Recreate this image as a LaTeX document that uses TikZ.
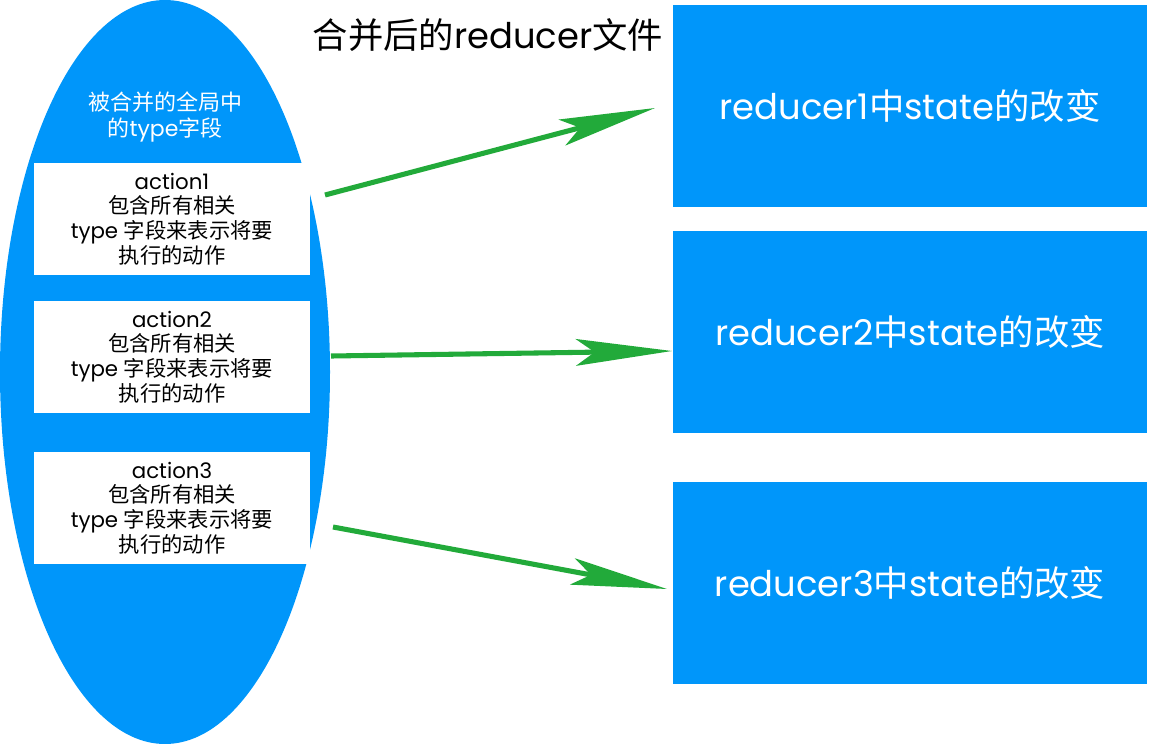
\documentclass[tikz,border=0pt]{standalone}
\usepackage{fontspec}
\setmainfont{Poppins}
\newfontfamily\cjk{Noto Sans CJK SC}
\usetikzlibrary{arrows.meta,shapes.geometric}
\definecolor{bblue}{RGB}{0,150,250}
\definecolor{agreen}{RGB}{34,170,58}
\newcommand{\zh}[1]{{\cjk #1}}
\begin{document}
\begin{tikzpicture}[x=0.75pt,y=-0.75pt,
  whitebox/.style={fill=white, draw=none, minimum width=207pt, minimum height=84.5pt, align=center, inner sep=0pt, font=\fontsize{16}{18.6}\selectfont},
  bluebox/.style={fill=bblue, draw=none, minimum width=355.5pt, minimum height=151.5pt, align=center, text=white, font=\fontsize{26.5}{30}\selectfont},
  garrow/.style={draw=agreen, line width=3.8pt, -{Stealth[length=72pt, width=20pt, inset=14pt]}}]
\useasboundingbox (0,0) rectangle (1167,743);
\node[ellipse, fill=bblue, draw=none, minimum width=330*0.75pt, minimum height=744*0.75pt, inner sep=0pt] (ell) at (165,372) {};
\node[text=white, align=center, font=\fontsize{16.5}{19.2}\selectfont] (hdr) at (165,117) {\zh{被合并的全局中}\\\zh{的}type\zh{字段}};
\node[whitebox] (w1) at (172,219) {action1\\\zh{包含所有相关}\\type \zh{字段来表示将要}\\\zh{执行的动作}};
\node[whitebox] (w2) at (172,357) {action2\\\zh{包含所有相关}\\type \zh{字段来表示将要}\\\zh{执行的动作}};
\node[whitebox] (w3) at (172,508) {action3\\\zh{包含所有相关}\\type \zh{字段来表示将要}\\\zh{执行的动作}};
\node[font=\fontsize{26.5}{30}\selectfont] (title) at (488,35) {\zh{合并后的}reducer\zh{文件}};
\node[bluebox] (b1) at (910,106) {reducer1\zh{中}state\zh{的改变}};
\node[bluebox] (b2) at (910,332) {reducer2\zh{中}state\zh{的改变}};
\node[bluebox] (b3) at (910,583) {reducer3\zh{中}state\zh{的改变}};
\coordinate (s1) at (325,195);
\coordinate (e1) at (655,108);
\coordinate (s2) at (331,356);
\coordinate (e2) at (672,351);
\coordinate (s3) at (333,527);
\coordinate (e3) at (667,589);
\draw[garrow] (s1) -- (e1);
\draw[garrow] (s2) -- (e2);
\draw[garrow] (s3) -- (e3);
\end{tikzpicture}
\end{document}
